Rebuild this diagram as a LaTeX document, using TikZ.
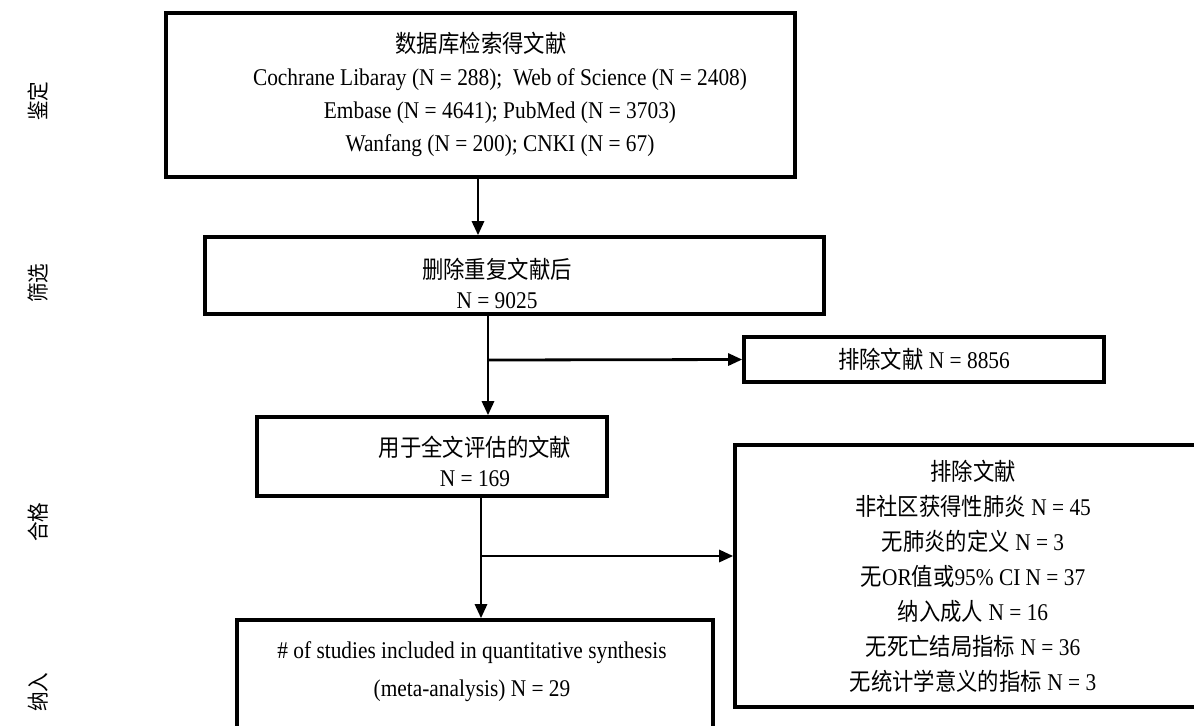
\documentclass[tikz,border=0pt]{standalone}
\usepackage{fontspec}
\setmainfont{Liberation Serif}[FakeStretch=0.89]
\newfontfamily\zhfont{Noto Sans CJK SC}[FakeStretch=0.89]
\newcommand{\zh}[1]{{\zhfont #1}}
\usetikzlibrary{arrows.meta}

\begin{document}
\begin{tikzpicture}[
  x=0.5pt, y=-0.5pt,
  >={Triangle[length=7pt,width=6pt]},
  box/.style={draw,line width=1.8pt,inner sep=0pt,align=center,
    font=\fontsize{12}{15}\selectfont},
  txt/.style={align=center,inner sep=0pt},
  flow/.style={->,line width=1.4pt},
  stage/.style={rotate=90,font=\zhfont\fontsize{11}{13}\selectfont},
]
  \useasboundingbox (0,0) rectangle (1194,725);
  \clip (0,0) rectangle (1194,725);

  % stages on the left
  \node[stage] (ident)  at (38,101) {鉴定};
  \node[stage] (screen) at (38,283) {筛选};
  \node[stage] (elig)   at (38,522) {合格};
  \node[stage] (inclst) at (38,692) {纳入};

  % boxes
  \node[box,minimum width=314.5pt,minimum height=82pt] (search) at (480.5,95) {};
  \node[txt,font=\fontsize{12}{16.5}\selectfont] (searchlbl) at (500,94)
    {\hspace*{-19pt}\zh{数据库检索得文献}\\
     Cochrane Libaray (N = 288);\ \ Web of Science (N = 2408)\\
     Embase (N = 4641); PubMed (N = 3703)\\
     Wanfang (N = 200); CNKI (N = 67)};

  \node[box,minimum width=309.5pt,minimum height=38.5pt] (dedup) at (514.5,275.5) {};
  \node[txt,font=\fontsize{12}{15}\selectfont] (deduplbl) at (497,283)
    {\zh{删除重复文献后}\\N = 9025};

  \node[box,minimum width=180pt,minimum height=22.5pt] (excl1) at (924,359.5)
    {\zh{排除文献} N = 8856};

  \node[box,minimum width=175pt,minimum height=39.5pt] (fulltext) at (432,456.5) {};
  \node[txt,font=\fontsize{12}{15}\selectfont] (fulltextlbl) at (475,461)
    {\zh{用于全文评估的文献}\\N = 169};

  \node[box,minimum width=238pt,minimum height=131pt,
    font=\fontsize{12}{17.5}\selectfont] (excl2) at (973,576)
    {\zh{排除文献}\\
     \zh{非社区获得性肺炎} N = 45\\
     \zh{无肺炎的定义} N = 3\\
     \zh{无}OR\zh{值或}95\% CI N = 37\\
     \zh{纳入成人} N = 16\\
     \zh{无死亡结局指标} N = 36\\
     \zh{无统计学意义的指标} N = 3};

  \node[box,minimum width=238pt,minimum height=75pt] (incl) at (475,695) {};
  \node[txt,font=\fontsize{12}{19}\selectfont] (incllbl) at (472,672)
    {\# of studies included in quantitative synthesis\\(meta-analysis) N = 29};

  % connectors
  \coordinate (split1) at (488,360);
  \coordinate (split2) at (481,556);
  \draw[flow] (search.south -| 478,0) -- (dedup.north -| 478,0);
  \draw[flow] (dedup.south -| split1) -- (fulltext.north -| split1);
  \draw[flow] (split1) -- (excl1.west);
  \draw[flow] (fulltext.south -| split2) -- (incl.north -| split2);
  \draw[flow] (split2) -- (split2 -| excl2.west);
\end{tikzpicture}
\end{document}
